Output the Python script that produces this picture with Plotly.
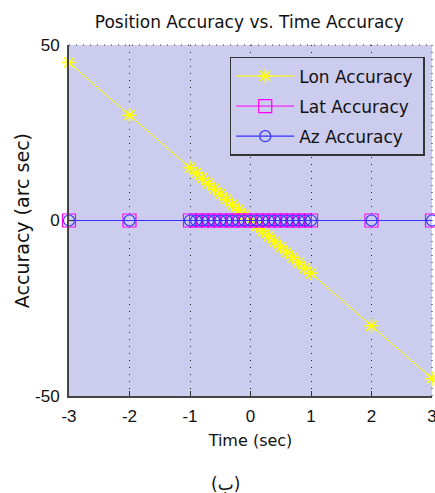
import plotly.graph_objects as go

time_sec = [-3, -2, -1, -0.9, -0.8, -0.7, -0.6, -0.5, -0.4, -0.3, -0.2, -0.1, 0,
            0.1, 0.2, 0.3, 0.4, 0.5, 0.6, 0.7, 0.8, 0.9, 1, 2, 3]
lon_acc = [45, 30, 15, 13.5, 12, 10.5, 9, 7.5, 6, 4.5, 3, 1.5, 0,
           -1.5, -3, -4.5, -6, -7.5, -9, -10.5, -12, -13.5, -15, -30, -45]
lat_acc = [0] * 25
az_acc = [0] * 25

x_ticks = [-3, -2, -1, 0, 1, 2, 3]
x_labels = ["-3", "-2", "-1", "0", "1", "2", "3"]
y_ticks = [-50, 0, 50]
y_labels = ["-50", "0", "50"]

TICKFONT = "Liberation Sans, Arial, sans-serif"
TEXTFONT = "DejaVu Sans, sans-serif"
BG = "#ccccee"
GRID = "#222222"
PAD = "\u00a0"

fig = go.Figure()
fig.add_trace(go.Scatter(
    x=time_sec, y=lon_acc, name="Lon Accuracy" + PAD, mode="lines+markers", legendgroup="a",
    line=dict(color="#ffff00", width=1),
    marker=dict(symbol="asterisk-open", size=12, color="#ffff00",
                line=dict(color="#ffff00", width=1.5)),
    cliponaxis=False))
fig.add_trace(go.Scatter(
    x=time_sec, y=lat_acc, name="Lat Accuracy" + PAD, mode="lines+markers", legendgroup="b",
    line=dict(color="#ff00ff", width=1),
    marker=dict(symbol="square-open", size=13, color="#ff00ff",
                line=dict(color="#ff00ff", width=1.2)),
    cliponaxis=False))
fig.add_trace(go.Scatter(
    x=time_sec, y=az_acc, name="Az Accuracy" + PAD, mode="lines+markers", legendgroup="c",
    line=dict(color="#3333ff", width=1.2),
    marker=dict(symbol="circle-open", size=11, color="#3333ff",
                line=dict(color="#3333ff", width=1.2)),
    cliponaxis=False))

axis_common = dict(ticks="inside", ticklen=5, tickcolor="#333333",
                   showline=True, linecolor="#444444", linewidth=2,
                   showgrid=True, gridcolor=GRID, griddash="1px,6px", gridwidth=1,
                   zeroline=False, fixedrange=True, ticklabeloverflow="allow",
                   automargin=False,
                   tickfont=dict(family=TICKFONT, size=17, color="#111111"))

fig.update_layout(
    width=435, height=493,
    margin=dict(l=69, r=3, t=45, b=97, autoexpand=False),
    paper_bgcolor="white", plot_bgcolor=BG,
    font=dict(family=TEXTFONT, size=16, color="#111111"),
    title=dict(text="Position Accuracy vs. Time Accuracy", x=0.573, xanchor="center",
               y=0.955, yanchor="middle", font=dict(size=17)),
    showlegend=True,
    legend=dict(x=0.98, xanchor="right", y=0.966, yanchor="top",
                bgcolor=BG, bordercolor="#333333", borderwidth=1.5,
                font=dict(size=17), tracegroupgap=5, itemwidth=58),
    xaxis=dict(range=[-3, 3], tickvals=x_ticks, ticktext=x_labels,
               ticklabelstandoff=4,
               title=dict(text="Time (sec)", standoff=9, font=dict(size=16)),
               **axis_common),
    yaxis=dict(range=[-50, 50], tickvals=y_ticks, ticktext=y_labels,
               ticklabelstandoff=4,
               **axis_common),
)
# dotted frame on top and right edges (grid at range limits)
fig.add_shape(type="line", xref="paper", yref="paper", x0=0, x1=1, y0=1, y1=1,
              line=dict(color=GRID, width=1, dash="1px,6px"), layer="below")
fig.add_shape(type="line", xref="paper", yref="paper", x0=1, x1=1, y0=0, y1=1,
              line=dict(color=GRID, width=1, dash="1px,6px"), layer="below")
fig.add_annotation(text="Accuracy (arc sec)", xref="paper", yref="paper",
                   x=-0.129, y=0.4986, xanchor="center", yanchor="middle",
                   textangle=-90, showarrow=False, font=dict(size=19))
fig.add_annotation(text="(ب)", xref="paper", yref="paper", x=0.43, y=-0.252,
                   xanchor="center", yanchor="middle",
                   showarrow=False, font=dict(size=17, family="DejaVu Sans"))

fig.write_html("out.html")
